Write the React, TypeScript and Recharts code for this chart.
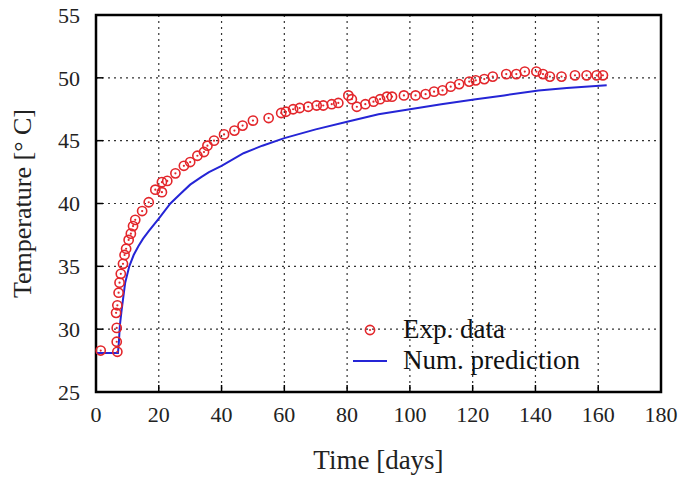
import {
  ComposedChart,
  Scatter,
  Line,
  XAxis,
  YAxis,
  CartesianGrid,
  ReferenceArea,
  Legend,
} from "recharts";

const xTicks = [0, 20, 40, 60, 80, 100, 120, 140, 160, 180];
const yTicks = [25, 30, 35, 40, 45, 50, 55];

const expDays = [
  1.5, 6.8, 6.6, 6.6, 6.4, 6.8, 7.2, 7.5, 7.9, 8.6, 9.1, 9.6, 10.4, 11.1, 11.8,
  12.5, 14.7, 16.8, 18.9, 21, 21, 22.7, 25.3, 28, 30, 32.3, 34.4, 35.5, 37.6,
  40.8, 44.1, 46.7, 50, 55, 59, 60.5, 62.8, 64.9, 67.6, 70.3, 72.4, 75.1, 77.2,
  80.4, 81.5, 83.1, 85.8, 88.4, 90.5, 92.7, 94.3, 98.1, 101.8, 105, 107.7,
  110.4, 113, 115.7, 118.9, 121, 123.7, 126.4, 130.7, 133.9, 136.6, 140.3,
  142.4, 144.6, 148.3, 152.6, 156.3, 159.5, 161.5,
];
const expTemps = [
  28.3, 28.2, 29.0, 30.1, 31.3, 31.9, 32.9, 33.7, 34.4, 35.2, 35.9, 36.4, 37.1,
  37.6, 38.2, 38.7, 39.4, 40.1, 41.1, 40.9, 41.7, 41.8, 42.4, 43.0, 43.3, 43.8,
  44.1, 44.6, 45.0, 45.5, 45.8, 46.2, 46.6, 46.8, 47.2, 47.3, 47.5, 47.6, 47.7,
  47.8, 47.8, 47.9, 48.0, 48.6, 48.3, 47.7, 47.9, 48.1, 48.3, 48.5, 48.5, 48.6,
  48.6, 48.7, 48.9, 49.0, 49.3, 49.5, 49.7, 49.8, 49.9, 50.1, 50.3, 50.3, 50.5,
  50.5, 50.3, 50.1, 50.1, 50.2, 50.2, 50.2, 50.2,
];

const predDays = [
  0, 7.0, 7.3, 7.6, 8.2, 9.3, 10.6, 12, 13.5, 15, 16.8, 20, 23.7, 27, 30, 33.5,
  36, 40, 47, 53, 60, 70, 80, 90, 100, 110, 121, 130, 141, 150, 162.7,
];
const predTemps = [
  28.1, 28.1, 29.0, 30.3, 31.6, 33.7, 35.0, 35.9, 36.6, 37.2, 37.8, 38.8, 40.0,
  40.8, 41.5, 42.1, 42.5, 43.0, 44.0, 44.6, 45.2, 45.9, 46.5, 47.1, 47.5, 47.9,
  48.3, 48.6, 49.0, 49.2, 49.4,
];

const expData = expDays.map((d, i) => ({ day: d, temp: expTemps[i] }));
const predData = predDays.map((d, i) => ({ day: d, temp: predTemps[i] }));

const RED = "#e3262b";
const BLUE = "#2525d6";
const FONT = "'Liberation Serif', 'DejaVu Serif', serif";
const TICK_MARGIN = 14;

const Marker = (props: any) => {
  const { cx, cy } = props;
  if (cx == null || cy == null) return null;
  return (
    <g>
      <circle cx={cx} cy={cy} r={4.6} fill="none" stroke={RED} strokeWidth={1.6} />
      <circle cx={cx} cy={cy} r={1.1} fill={RED} />
    </g>
  );
};

const XTick = (props: any) => {
  const { x, y, payload } = props;
  const axisY = y - TICK_MARGIN;
  return (
    <g>
      <line x1={x} x2={x} y1={axisY} y2={axisY - 7} stroke="#000" strokeWidth={1.5} />
      <text x={x} y={y} dy="0.71em" textAnchor="middle" fontSize={22} fontFamily={FONT} fill="#222">
        {payload.value}
      </text>
    </g>
  );
};

const YTick = (props: any) => {
  const { x, y, payload } = props;
  const axisX = x + TICK_MARGIN;
  return (
    <g>
      <line x1={axisX} x2={axisX + 7} y1={y} y2={y} stroke="#000" strokeWidth={1.5} />
      <text x={x - 2} y={y} dy="0.35em" textAnchor="end" fontSize={22} fontFamily={FONT} fill="#222">
        {payload.value}
      </text>
    </g>
  );
};

const LegendBox = () => (
  <div style={{ fontFamily: FONT, fontSize: 27, color: "#111", lineHeight: "31px" }}>
    <div style={{ display: "flex", alignItems: "center" }}>
      <svg width={50} height={31}>
        <circle cx={17} cy={16} r={4.6} fill="none" stroke={RED} strokeWidth={1.6} />
        <circle cx={17} cy={16} r={1.1} fill={RED} />
      </svg>
      <span>Exp. data</span>
    </div>
    <div style={{ display: "flex", alignItems: "center" }}>
      <svg width={50} height={31}>
        <line x1={0} x2={34} y1={16} y2={16} stroke={BLUE} strokeWidth={2} />
      </svg>
      <span>Num. prediction</span>
    </div>
  </div>
);

export default function App() {
  return (
    <div style={{ position: "absolute", left: 0, top: 0, background: "#fff" }}>
      <ComposedChart
        width={682}
        height={477}
        margin={{ top: 15, right: 21, bottom: 55, left: 40 }}
      >
        <CartesianGrid
          stroke="#333"
          strokeWidth={1.2}
          strokeDasharray="2 4"
          horizontalValues={yTicks}
          verticalValues={xTicks}
        />
        <XAxis
          type="number"
          dataKey="day"
          domain={[0, 180]}
          ticks={xTicks}
          height={30}
          axisLine={false}
          tickLine={false}
          tickSize={0}
          tickMargin={TICK_MARGIN}
          tick={<XTick />}
          interval={0}
          label={(p: any) => {
            const vb = p.viewBox;
            return (
              <text
                x={vb.x + vb.width / 2}
                y={vb.y + 77}
                textAnchor="middle"
                fontSize={27}
                fontFamily={FONT}
                fill="#222"
              >
                Time [days]
              </text>
            );
          }}
        />
        <YAxis
          type="number"
          dataKey="temp"
          domain={[25, 55]}
          ticks={yTicks}
          width={56}
          axisLine={false}
          tickLine={false}
          tickSize={0}
          tickMargin={TICK_MARGIN}
          tick={<YTick />}
          interval={0}
          label={(p: any) => {
            const vb = p.viewBox;
            const cy = vb.y + vb.height / 2;
            return (
              <text
                x={31}
                y={cy}
                textAnchor="middle"
                transform={`rotate(-90, 31, ${cy})`}
                fontSize={26}
                fontFamily={FONT}
                fill="#222"
              >
                Temperature [° C]
              </text>
            );
          }}
        />
        <ReferenceArea
          x1={0}
          x2={180}
          y1={25}
          y2={55}
          fill="none"
          fillOpacity={0}
          stroke="#000"
          strokeWidth={2.5}
          ifOverflow="visible"
        />
        <Scatter
          name="Exp. data"
          data={expData}
          shape={<Marker />}
          isAnimationActive={false}
        />
        <Line
          name="Num. prediction"
          data={predData}
          dataKey="temp"
          type="linear"
          stroke={BLUE}
          strokeWidth={2}
          dot={false}
          activeDot={false}
          isAnimationActive={false}
        />
        <Legend
          layout="vertical"
          align="center"
          verticalAlign="middle"
          wrapperStyle={{ left: 353, top: 314, width: 300 }}
          content={<LegendBox />}
        />
      </ComposedChart>
    </div>
  );
}
